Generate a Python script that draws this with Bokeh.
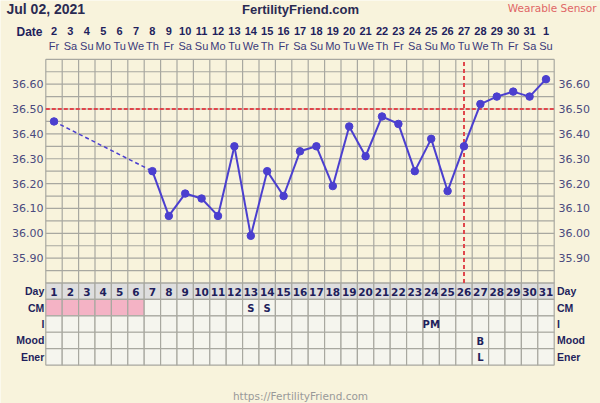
import math
from bokeh.plotting import figure
from bokeh.models import Range1d
from bokeh.core.properties import value
from bokeh.embed import file_html
from bokeh.resources import INLINE

# ---------------- data ----------------
days = list(range(1, 32))
date_labels = ["2", "3", "4", "5", "6", "7", "8", "9", "10", "11", "12", "13", "14", "15", "16",
               "17", "18", "19", "20", "21", "22", "23", "24", "25", "26", "27", "28", "29", "30", "31", "1"]
weekday_labels = ["Fr", "Sa", "Su", "Mo", "Tu", "We", "Th", "Fr", "Sa", "Su", "Mo", "Tu", "We", "Th", "Fr",
                  "Sa", "Su", "Mo", "Tu", "We", "Th", "Fr", "Sa", "Su", "Mo", "Tu", "We", "Th", "Fr", "Sa", "Su"]
nan = float("nan")
temps = [36.45, nan, nan, nan, nan, nan, 36.25, 36.07, 36.16, 36.14, 36.07, 36.35, 35.99, 36.25, 36.15,
         36.33, 36.35, 36.19, 36.43, 36.31, 36.47, 36.44, 36.25, 36.38, 36.17, 36.35, 36.52, 36.55, 36.57,
         36.55, 36.62]
temp_ticks = [35.90, 36.00, 36.10, 36.20, 36.30, 36.40, 36.50, 36.60]
temp_min, temp_max, temp_step = 35.80, 36.70, 0.05
coverline = 36.50
ovulation_day = 26
period_days = [1, 2, 3, 4, 5, 6]
row_labels = ["Day", "CM", "I", "Mood", "Ener"]
cell_days = [13, 14, 24, 27, 27]
cell_rows = ["CM", "CM", "I", "Mood", "Ener"]
cell_texts = ["S", "S", "PM", "B", "L"]
title_date = "Jul 02, 2021"
site = "FertilityFriend.com"
sensor = "Wearable Sensor"
footer = "https://FertilityFriend.com"

# ---------------- layout (page pixels) ----------------
W, H = 600, 403
OFF = 0
GRID_LEFT = 45.3
CELL = 16.4
TEMP_TOP = 58.8
PX_PER_DEG = 248.6
TABLE_TOP = TEMP_TOP + (temp_max - temp_min) * PX_PER_DEG


def X(px):
    return 0.5 + (px - GRID_LEFT) / CELL


def R(py):
    return (py - TABLE_TOP) / CELL


BG = "#f8f3dc"
NAVY = "#1f1f5c"
AXIS_TXT = "#4a4a7e"
GRIDC = "#a8a8a0"
RED = "#e0474c"
BLUE = "#4b3fcf"

p = figure(width=W, height=H, output_backend="svg", toolbar_location=None,
           x_range=Range1d(X(OFF), X(OFF + W)),
           y_range=Range1d(temp_max - (OFF + H - TEMP_TOP) / PX_PER_DEG,
                           temp_max + (TEMP_TOP - OFF) / PX_PER_DEG),
           x_axis_location=None, y_axis_location=None, min_border=0)
p.extra_y_ranges = {"rows": Range1d(start=R(OFF + H), end=R(OFF))}
p.background_fill_color = BG
p.border_fill_color = BG
p.outline_line_color = None
p.grid.visible = False

x_lo, x_hi = days[0] - 0.5, days[-1] + 0.5

# temperature grid
n_h = int(round((temp_max - temp_min) / temp_step)) + 1
h_levels = [temp_min + i * temp_step for i in range(n_h)]
p.segment(x0=[x_lo] * n_h, x1=[x_hi] * n_h, y0=h_levels, y1=h_levels,
          line_color=GRIDC, line_width=1.2)
v_pos = [d - 0.5 for d in days] + [x_hi]
p.segment(x0=v_pos, x1=v_pos, y0=[temp_min] * len(v_pos), y1=[temp_max] * len(v_pos),
          line_color=GRIDC, line_width=1.2)

# table cells
n_rows = len(row_labels)
cx, cy, cfill = [], [], []
for ri, rl in enumerate(row_labels):
    for d in days:
        cx.append(d)
        cy.append(ri + 0.5)
        if rl == "Day":
            cfill.append("#dedede")
        elif rl == "CM" and d in period_days:
            cfill.append("#f4b3c5")
        else:
            cfill.append("#f5f5ee")
p.rect(x=cx, y=cy, width=1, height=1, fill_color=cfill, line_color=GRIDC, line_width=1.2,
       y_range_name="rows")

# row labels
p.text(x=[X(43.8)] * n_rows, y=[i + 0.5 for i in range(n_rows)], text=row_labels,
       text_font=value("Liberation Sans"), text_font_style="bold", text_font_size="10.5px",
       text_color=NAVY, text_align="right", text_baseline="middle", y_range_name="rows")
p.text(x=[X(556.5)] * n_rows, y=[i + 0.5 for i in range(n_rows)], text=row_labels,
       text_font=value("Liberation Sans"), text_font_style="bold", text_font_size="10.5px",
       text_color=NAVY, text_align="left", text_baseline="middle", y_range_name="rows")

# day numbers
p.text(x=days, y=[0.55] * len(days), text=[str(d) for d in days],
       text_font=value("DejaVu Sans"), text_font_style="bold", text_font_size="10.5px",
       text_color=NAVY, text_align="center", text_baseline="middle", y_range_name="rows")

# cell observations
p.text(x=cell_days, y=[row_labels.index(r) + 0.55 for r in cell_rows], text=cell_texts,
       text_font=value("DejaVu Sans"), text_font_style="bold", text_font_size="10px",
       text_color=NAVY, text_align="center", text_baseline="middle", y_range_name="rows")

# temperature tick labels
tl = ["%.2f" % t for t in temp_ticks]
p.text(x=[X(43)] * len(temp_ticks), y=temp_ticks, text=tl,
       text_font=value("DejaVu Sans"), text_font_size="11px", text_color=AXIS_TXT,
       text_align="right", text_baseline="middle")
p.text(x=[X(558)] * len(temp_ticks), y=temp_ticks, text=tl,
       text_font=value("DejaVu Sans"), text_font_size="11px", text_color=AXIS_TXT,
       text_align="left", text_baseline="middle")

# header
p.text(x=[X(42)], y=[R(31)], text=["Date"], text_font=value("Liberation Sans"),
       text_font_style="bold", text_font_size="12px", text_color=NAVY,
       text_align="right", text_baseline="middle", y_range_name="rows")
p.text(x=days, y=[R(30.5)] * len(days), text=date_labels, text_font=value("Liberation Sans"),
       text_font_style="bold", text_font_size="11px", text_color=NAVY,
       text_align="center", text_baseline="middle", y_range_name="rows")
p.text(x=days, y=[R(45.5)] * len(days), text=weekday_labels, text_font=value("Liberation Sans"),
       text_font_size="11px", text_color="#3a3a7a",
       text_align="center", text_baseline="middle", y_range_name="rows")
p.text(x=[X(6)], y=[R(8.5)], text=[title_date], text_font=value("Liberation Sans"),
       text_font_style="bold", text_font_size="14px", text_color="#2a2a52",
       text_align="left", text_baseline="middle", y_range_name="rows")
p.text(x=[X(300)], y=[R(8.5)], text=[site], text_font=value("Liberation Sans"),
       text_font_style="bold", text_font_size="13px", text_color="#2a2a52",
       text_align="center", text_baseline="middle", y_range_name="rows")
p.text(x=[X(596)], y=[R(7.5)], text=[sensor], text_font=value("DejaVu Sans"),
       text_font_size="10.5px", text_color="#e06666",
       text_align="right", text_baseline="middle", y_range_name="rows")
p.text(x=[X(300)], y=[R(401)], text=[footer], text_font=value("DejaVu Sans"),
       text_font_size="10.5px", text_color="#999999",
       text_align="center", text_baseline="bottom", y_range_name="rows")

# coverline and ovulation line
p.segment(x0=[x_lo], x1=[x_hi], y0=[coverline], y1=[coverline], line_color=RED,
          line_width=2, line_dash="4 2")
p.segment(x0=[ovulation_day], x1=[ovulation_day], y0=[temp_min], y1=[temp_max], line_color=RED,
          line_width=2, line_dash="4 3")

# temperature line: solid between consecutive days, dashed across gaps
valid = [(d, t) for d, t in zip(days, temps) if not math.isnan(t)]
sx0, sy0, sx1, sy1, dx0, dy0, dx1, dy1 = [], [], [], [], [], [], [], []
for (d0, t0), (d1, t1) in zip(valid[:-1], valid[1:]):
    if d1 - d0 == 1:
        sx0.append(d0); sy0.append(t0); sx1.append(d1); sy1.append(t1)
    else:
        dx0.append(d0); dy0.append(t0); dx1.append(d1); dy1.append(t1)
p.segment(x0=dx0, y0=dy0, x1=dx1, y1=dy1, line_color=BLUE, line_width=1.5, line_dash="4 3")
p.segment(x0=sx0, y0=sy0, x1=sx1, y1=sy1, line_color=BLUE, line_width=2)
p.scatter(x=[v[0] for v in valid], y=[v[1] for v in valid], size=7.5,
          fill_color=BLUE, line_color=BLUE)

open("out.html", "w").write(file_html(p, INLINE))
